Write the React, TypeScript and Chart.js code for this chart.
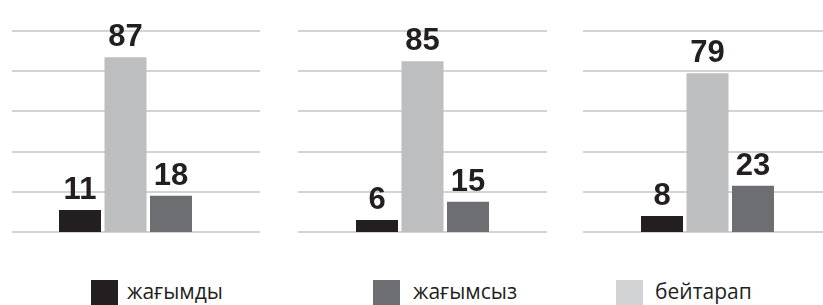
import React, { useEffect, useRef } from "react";
import { Chart, registerables } from "chart.js";

Chart.register(...registerables);

// ---- data ----
const groups = ["1", "2", "3"];
const seriesNames = ["жағымды", "бейтарап", "жағымсыз"];
const positive = [11, 6, 8];
const neutral = [87, 85, 79];
const negative = [18, 15, 23];
const yTicks = [0, 20, 40, 60, 80, 100];
const legendOrder = ["жағымды", "жағымсыз", "бейтарап"];

// ---- style ----
const barColors = ["#231f20", "#bcbec0", "#6d6e71"];
const legendColors: Record<string, string> = {
  "жағымды": "#231f20",
  "жағымсыз": "#6d6e71",
  "бейтарап": "#d1d3d4",
};
const legendPos = [
  { box: 91, text: 127 },
  { box: 373, text: 413 },
  { box: 616, text: 655 },
];
const panels = [
  { left: 12, width: 248, padL: 45.25, padR: 66.25 },
  { left: 298, width: 249, padL: 56.25, padR: 56.25 },
  { left: 583, width: 240, padL: 56.25, padR: 47.25 },
];
const CANVAS_H = 245;

const gridPlugin = {
  id: "panelGrid",
  beforeDatasetsDraw(chart: any) {
    const { ctx } = chart;
    const y = chart.scales.y;
    ctx.save();
    ctx.strokeStyle = "#d3d3d3";
    ctx.lineWidth = 2;
    yTicks.forEach((v) => {
      const py = Math.round(y.getPixelForValue(v));
      ctx.beginPath();
      ctx.moveTo(0, py);
      ctx.lineTo(chart.width, py);
      ctx.stroke();
    });
    ctx.restore();
  },
};

const labelPlugin = {
  id: "valueLabels",
  afterDatasetsDraw(chart: any) {
    const { ctx } = chart;
    ctx.save();
    ctx.font = "bold 31px 'Liberation Sans', Arial, sans-serif";
    ctx.fillStyle = "#231f20";
    ctx.textAlign = "center";
    ctx.textBaseline = "alphabetic";
    chart.data.datasets.forEach((ds: any, di: number) => {
      const meta = chart.getDatasetMeta(di);
      meta.data.forEach((bar: any, i: number) => {
        ctx.fillText(String(ds.data[i]), bar.x, bar.y - 11);
      });
    });
    ctx.restore();
  },
};

function Panel({ index }: { index: number }) {
  const ref = useRef<HTMLCanvasElement>(null);
  const p = panels[index];
  useEffect(() => {
    if (!ref.current) return;
    const values = [positive[index], neutral[index], negative[index]];
    const chart = new Chart(ref.current, {
      type: "bar",
      data: {
        labels: [groups[index]],
        datasets: seriesNames.map((name, si) => ({
          label: name,
          data: [values[si]],
          backgroundColor: barColors[si],
          borderWidth: 0,
          categoryPercentage: 1,
          barPercentage: 42 / 45.5,
        })),
      },
      options: {
        responsive: false,
        animation: false,
        layout: {
          padding: { top: 31, bottom: CANVAS_H - 232, left: p.padL, right: p.padR },
        },
        plugins: {
          legend: { display: false },
          tooltip: { enabled: false },
        },
        scales: {
          x: { display: false },
          y: { display: false, min: 0, max: 100 },
        },
      },
      plugins: [gridPlugin, labelPlugin],
    });
    return () => chart.destroy();
  }, [index]);
  return (
    <canvas
      ref={ref}
      width={p.width}
      height={CANVAS_H}
      style={{ position: "absolute", left: p.left, top: 0, width: p.width, height: CANVAS_H }}
    />
  );
}

export default function App() {
  return (
    <div
      style={{
        position: "fixed",
        left: 0,
        top: 0,
        width: 823,
        height: 305,
        background: "#ffffff",
        overflow: "hidden",
      }}
    >
      {groups.map((_, i) => (
        <Panel key={i} index={i} />
      ))}
      {legendOrder.map((name, i) => (
        <React.Fragment key={name}>
          <div
            style={{
              position: "absolute",
              left: legendPos[i].box,
              top: 280,
              width: 27,
              height: 27,
              background: legendColors[name],
            }}
          />
          <div
            style={{
              position: "absolute",
              left: legendPos[i].text,
              top: 277,
              font: "21px 'Open Sans', sans-serif",
              lineHeight: "normal",
              color: "#231f20",
              whiteSpace: "nowrap",
            }}
          >
            {name}
          </div>
        </React.Fragment>
      ))}
    </div>
  );
}
